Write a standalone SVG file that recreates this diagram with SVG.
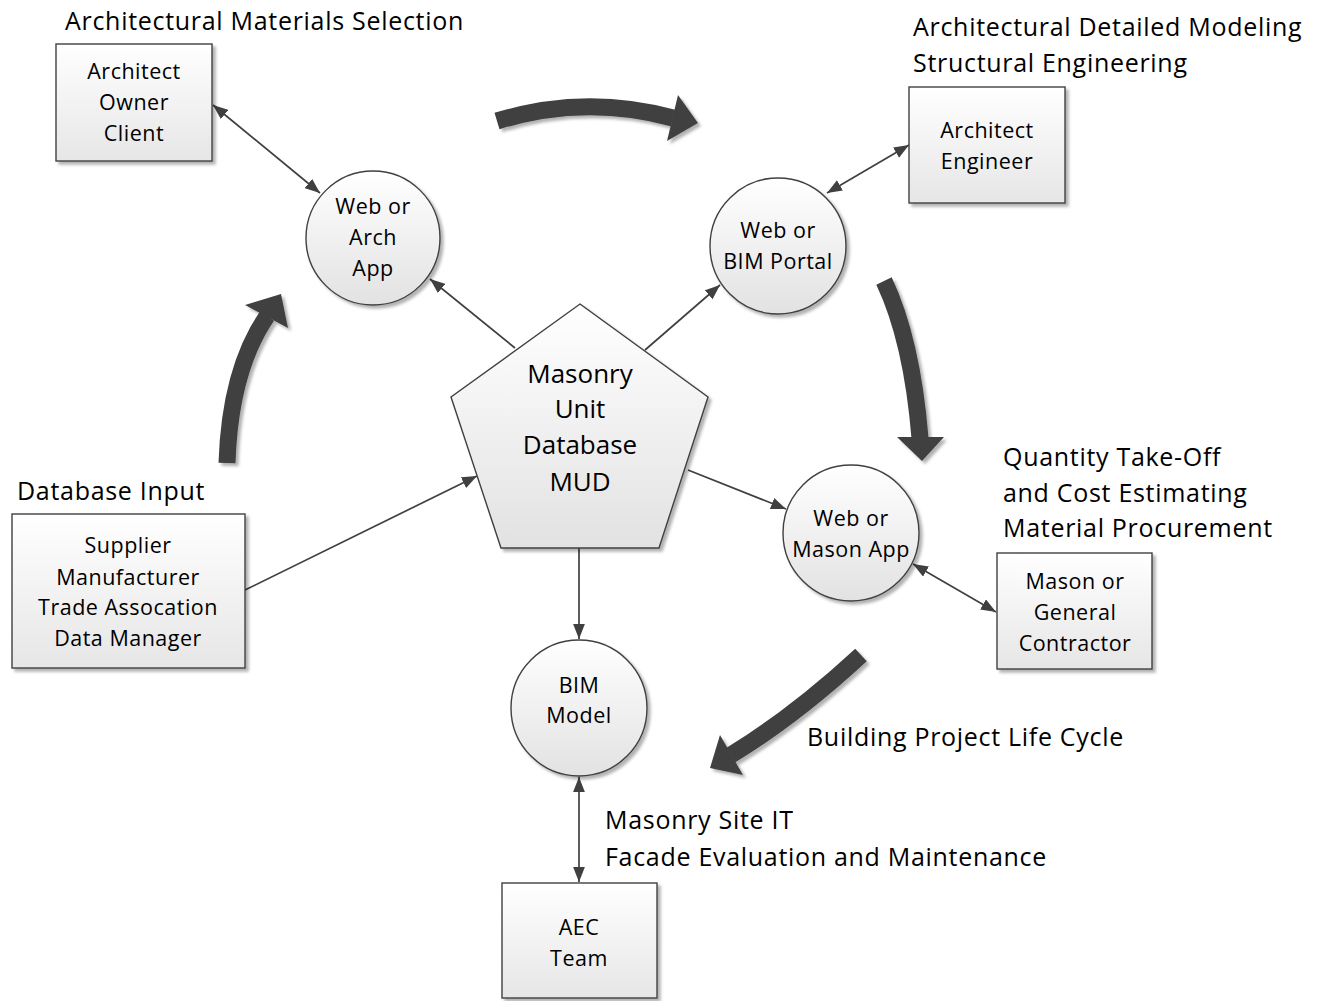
<svg xmlns="http://www.w3.org/2000/svg" width="1320" height="1001" viewBox="0 0 1320 1001">
<style>
text{font-family:"Open Sans","Liberation Sans",sans-serif;fill:#000}
.hdr{font-size:25px;letter-spacing:0.7px}
.lbl{font-size:21.5px;letter-spacing:0.5px;text-anchor:middle}
.big{font-size:26px;text-anchor:middle}
.shape{stroke:#404040;stroke-width:1.4;filter:url(#sh)}
.box{fill:url(#gb)}
.cir{fill:url(#gc)}
.con{stroke:#404040;stroke-width:1.7;fill:none}
.flow{fill:none;stroke:#404040;stroke-width:17}
.head{fill:#404040}
</style>
<defs>
<linearGradient id="gb" x1="0" y1="0" x2="0" y2="1"><stop offset="0" stop-color="#ffffff"/><stop offset="1" stop-color="#e6e6e6"/></linearGradient>
<linearGradient id="gc" x1="0" y1="0" x2="0" y2="1"><stop offset="0" stop-color="#ffffff"/><stop offset="1" stop-color="#e2e2e2"/></linearGradient>
<filter id="sh" x="-20%" y="-20%" width="150%" height="150%"><feDropShadow dx="3" dy="3" stdDeviation="1.5" flood-color="#000" flood-opacity="0.3"/></filter>
<marker id="ah" viewBox="0 0 14 11" refX="14" refY="5.5" markerWidth="15" markerHeight="12" markerUnits="userSpaceOnUse" orient="auto-start-reverse"><path d="M0,0 L14,5.5 L0,11 z" fill="#404040"/></marker>
</defs>

<g id="connectors">
<line class="con" x1="213" y1="105" x2="320" y2="193" marker-start="url(#ah)" marker-end="url(#ah)"/>
<line class="con" x1="515" y1="348" x2="430" y2="279" marker-end="url(#ah)"/>
<line class="con" x1="645" y1="350" x2="720" y2="285" marker-end="url(#ah)"/>
<line class="con" x1="827" y1="193" x2="909" y2="145" marker-start="url(#ah)" marker-end="url(#ah)"/>
<line class="con" x1="688" y1="470" x2="786" y2="509" marker-end="url(#ah)"/>
<line class="con" x1="913" y1="564" x2="996" y2="612" marker-start="url(#ah)" marker-end="url(#ah)"/>
<line class="con" x1="579" y1="548" x2="579" y2="639" marker-end="url(#ah)"/>
<line class="con" x1="579" y1="777" x2="579" y2="882" marker-start="url(#ah)" marker-end="url(#ah)"/>
<line class="con" x1="245" y1="590" x2="477" y2="476" marker-end="url(#ah)"/>
</g>

<g id="cycle-arrows" filter="url(#sh)">
<g id="cycle-top"><path class="flow" d="M497,121 Q585,94 673,118"/><polygon class="head" points="678,95 698,123 667,141"/></g>
<g id="cycle-right"><path class="flow" d="M884,281 Q912,340 920,438"/><polygon class="head" points="897,437 944,437 922,461"/></g>
<g id="cycle-bottom"><path class="flow" d="M861,655 Q795,716 731,755"/><polygon class="head" points="720,735 710,768 743,775"/></g>
<g id="cycle-left"><path class="flow" d="M227,463 Q230,370 267,316"/><polygon class="head" points="245,305 281,294 288,328"/></g>
</g>

<g id="n-owner"><rect class="shape box" x="56" y="44" width="156" height="117"/>
<text class="lbl" x="134" y="79">Architect</text><text class="lbl" x="134" y="110">Owner</text><text class="lbl" x="134" y="141">Client</text></g>

<g id="n-engineer"><rect class="shape box" x="909" y="87" width="156" height="116"/>
<text class="lbl" x="987" y="138">Architect</text><text class="lbl" x="987" y="169">Engineer</text></g>

<g id="n-supplier"><rect class="shape box" x="12" y="514" width="233" height="154"/>
<text class="lbl" x="128" y="553">Supplier</text><text class="lbl" x="128" y="585">Manufacturer</text><text class="lbl" x="128" y="615">Trade Assocation</text><text class="lbl" x="128" y="646">Data Manager</text></g>

<g id="n-contractor"><rect class="shape box" x="997" y="553" width="155" height="116"/>
<text class="lbl" x="1075" y="589">Mason or</text><text class="lbl" x="1075" y="620">General</text><text class="lbl" x="1075" y="651">Contractor</text></g>

<g id="n-aec"><rect class="shape box" x="502" y="883" width="155" height="115"/>
<text class="lbl" x="579" y="935">AEC</text><text class="lbl" x="579" y="966">Team</text></g>

<g id="n-archapp"><circle class="shape cir" cx="373" cy="238" r="67"/>
<text class="lbl" x="373" y="214">Web or</text><text class="lbl" x="373" y="245">Arch</text><text class="lbl" x="373" y="276">App</text></g>

<g id="n-bimportal"><circle class="shape cir" cx="778" cy="246" r="68"/>
<text class="lbl" x="778" y="238">Web or</text><text class="lbl" x="778" y="269">BIM Portal</text></g>

<g id="n-masonapp"><circle class="shape cir" cx="851" cy="533" r="68"/>
<text class="lbl" x="851" y="526">Web or</text><text class="lbl" x="851" y="557">Mason App</text></g>

<g id="n-bimmodel"><circle class="shape cir" cx="579" cy="708" r="68"/>
<text class="lbl" x="579" y="693">BIM</text><text class="lbl" x="579" y="723">Model</text></g>

<g id="n-mud"><polygon class="shape cir" points="580,304 708,397 659,548 501,548 451,397"/>
<text class="big" x="580" y="383">Masonry</text><text class="big" x="580" y="418">Unit</text><text class="big" x="580" y="454">Database</text><text class="big" x="580" y="491">MUD</text></g>

<g id="labels">
<text class="hdr" x="65" y="30">Architectural Materials Selection</text>
<text class="hdr" x="913" y="36">Architectural Detailed Modeling</text>
<text class="hdr" x="913" y="72">Structural Engineering</text>
<text class="hdr" x="17" y="500">Database Input</text>
<text class="hdr" x="1003" y="466">Quantity Take-Off</text>
<text class="hdr" x="1003" y="502">and Cost Estimating</text>
<text class="hdr" x="1003" y="537">Material Procurement</text>
<text class="hdr" x="807" y="746">Building Project Life Cycle</text>
<text class="hdr" x="605" y="829">Masonry Site IT</text>
<text class="hdr" x="605" y="866">Facade Evaluation and Maintenance</text>
</g>
</svg>
